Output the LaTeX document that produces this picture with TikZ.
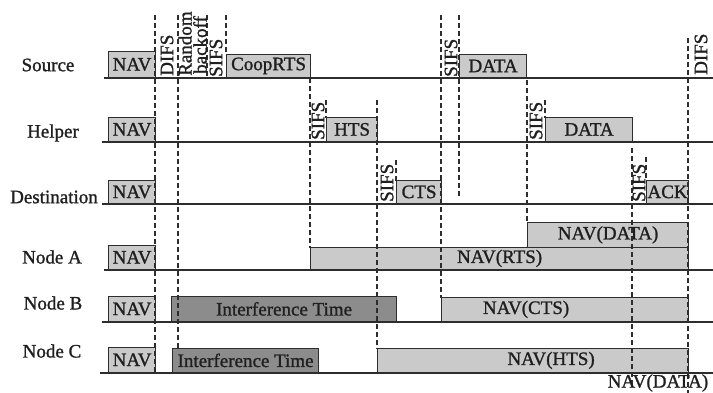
\documentclass[tikz,border=0pt]{standalone}
\usepackage{fontspec}
\setmainfont{Liberation Serif}[FakeBold=1.2]
\definecolor{navgray}{RGB}{202,202,202}
\definecolor{busygray}{RGB}{140,140,140}
\definecolor{edge}{RGB}{45,45,45}

\begin{document}
\begin{tikzpicture}[x=1pt,y=-1pt,
    every node/.style={font=\fontsize{19}{22}\selectfont,text=black!88},
    axis/.style={draw=edge,line width=1.3pt},
    gap/.style={draw=edge,line width=1.1pt,dash pattern=on 5pt off 3pt},
    nav/.style={draw=edge,line width=1.2pt,fill=navgray,anchor=south west,minimum height=24pt,inner sep=0pt},
    busy/.style={nav,fill=busygray},
    ifs/.style={rotate=90,anchor=west,inner sep=0pt}]
    \useasboundingbox (0,0) rectangle (713,393);

    \node (src) at (48,65) {Source};
    \node (hlp) at (53,133) {Helper};
    \node (dst) at (54,197) {Destination};
    \node (na) at (52,257) {Node A};
    \node (nb) at (53,303) {Node B};
    \node (nc) at (52,351) {Node C};

    \draw[axis] (104,78) -- (713,78);
    \draw[axis] (102,142) -- (713,142);
    \draw[axis] (102,204) -- (713,204);
    \draw[axis] (104,270) -- (713,270);
    \draw[axis] (102,322) -- (713,322);
    \draw[axis] (100,373) -- (713,373);

    \node[nav,minimum width=47pt,minimum height=26pt] (srcnav) at (108,78) {NAV};
    \node[nav,minimum width=47pt] (hlpnav) at (108,142) {NAV};
    \node[nav,minimum width=47pt,minimum height=23pt] (dstnav) at (108,204) {NAV};
    \node[nav,minimum width=47pt] (nanav) at (108,270) {NAV};
    \node[nav,minimum width=47pt,minimum height=25pt] (nbnav) at (108,322) {NAV};
    \node[nav,minimum width=47pt,minimum height=25pt] (ncnav) at (108,373) {NAV};

    \node[nav,minimum width=84pt,minimum height=23pt] (rts) at (226,78) {CoopRTS};
    \node[nav,minimum width=51pt] (hts) at (326,142) {HTS};
    \node[nav,minimum width=45pt,minimum height=23pt] (cts) at (396,204) {CTS};
    \node[nav,minimum width=67pt,minimum height=23pt] (srcdata) at (459,78) {DATA};
    \node[nav,minimum width=87pt] (hlpdata) at (545,142) {DATA};
    \node[nav,minimum width=42pt,minimum height=23pt] (ack) at (646,204) {ACK};

    \node[nav,minimum width=161pt,minimum height=25pt] (navdata) at (527,248) {NAV(DATA)};
    \node[nav,minimum width=378pt,minimum height=22pt] (navrts) at (310,270) {NAV(RTS)};
    \node[busy,minimum width=225pt,minimum height=25pt] (intb) at (171,322) {Interference Time};
    \node[nav,minimum width=247pt,minimum height=24pt,label={[xshift=-39pt]center:NAV(CTS)}] (navcts) at (441,322) {};
    \node[busy,minimum width=146pt,minimum height=24pt] (intc) at (172,373) {Interference Time};
    \node[nav,minimum width=311pt,minimum height=24pt,label={[xshift=18pt]center:NAV(HTS)}] (navhts) at (377,373) {};

    \draw[gap] (155,15) -- (155,373);
    \draw[gap] (178,15) -- (178,348);
    \draw[gap] (207,15) -- (207,78);
    \draw[gap] (226,15) -- (226,55);
    \draw[gap] (310,78) -- (310,248);
    \draw[gap] (326,100) -- (326,118);
    \draw[gap] (377,100) -- (377,349);
    \draw[gap] (396,160) -- (396,181);
    \draw[gap] (441,15) -- (441,298);
    \draw[gap] (459,15) -- (459,197);
    \draw[gap] (527,80) -- (527,223);
    \draw[gap] (545,100) -- (545,118);
    \draw[gap] (632,148) -- (632,385);
    \draw[gap] (646,157) -- (646,181);
    \draw[gap] (688,38) -- (688,393);

    \node[ifs] (difs1) at (167,76) {DIFS};
    \node[ifs] (rnd) at (185,76) {Random};
    \node[ifs] (bko) at (200,74) {backoff};
    \node[ifs] (sifs1) at (216,77) {SIFS};
    \node[ifs] (sifs2) at (318,140) {SIFS};
    \node[ifs] (sifs3) at (387,202) {SIFS};
    \node[ifs] (sifs4) at (451,77) {SIFS};
    \node[ifs] (sifs5) at (536,140) {SIFS};
    \node[ifs] (sifs6) at (639,202) {SIFS};
    \node[ifs] (difs2) at (701,75) {DIFS};

    \node (navdata2) at (658,383) {NAV(DATA)};
  \end{tikzpicture}
\end{document}
